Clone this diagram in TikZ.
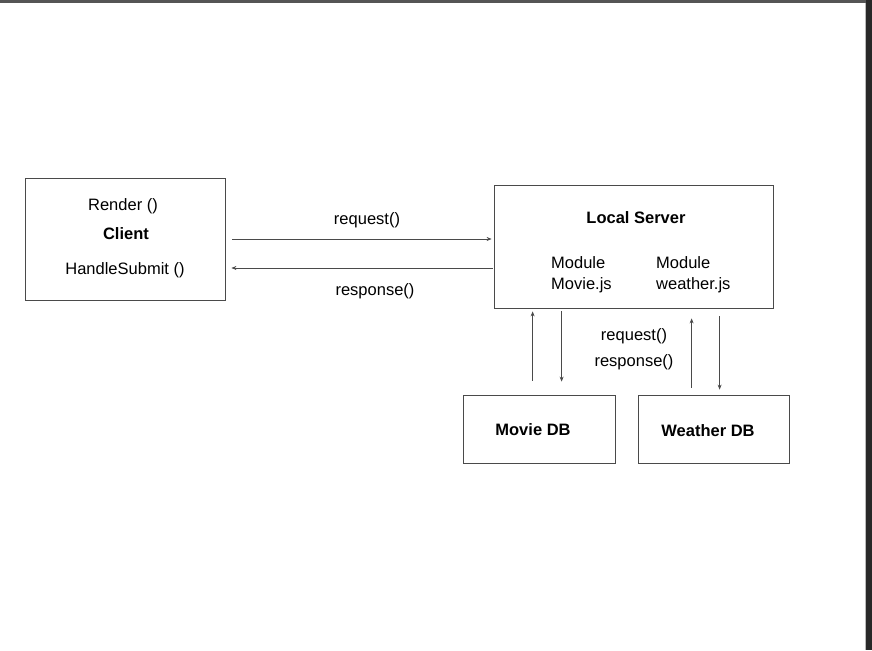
\documentclass[tikz,border=0pt]{standalone}
\usepackage{fontspec}
\setmainfont{Liberation Sans}
\definecolor{lineGrey}{HTML}{4A4A4A}
\definecolor{frameTop}{HTML}{555555}
\definecolor{frameSide}{HTML}{282828}
\definecolor{frameEdge}{HTML}{BBBBBB}
\usetikzlibrary{calc, positioning, arrows.meta}

\tikzset{
  box/.style={draw=lineGrey, line width=0.8pt, minimum width=#1, inner sep=0pt},
  lbl/.style={font=\fontsize{16.5}{21}\selectfont, inner sep=0pt, text=black},
  bold/.style={lbl, font=\fontsize{16.5}{21}\selectfont\bfseries},
  msg/.style={draw=lineGrey, line width=0.7pt, -{Stealth[length=5pt,width=4pt]}}
}

\begin{document}
\begin{tikzpicture}[x=1pt, y=-1pt]
  \useasboundingbox (0,0) rectangle (872,650);
  \fill[white] (0,0) rectangle (872,650);
  % screen frame
  \fill[frameTop] (0,0) rectangle (872,3);
  \fill[frameSide] (866,0) rectangle (872,650);
  \draw[frameEdge, line width=1pt] (865,3) -- (865,650);

  % boxes
  \node[box=200pt, minimum height=122pt] (client) at (125,239) {};
  \node[box=279pt, minimum height=123pt] (server) at (633.5,246.5) {};
  \node[box=152pt, minimum height=68pt] (moviedb) at (539,429) {};
  \node[box=151pt, minimum height=68pt] (weatherdb) at (713.5,429) {};

  % client texts
  \node[lbl] (render) at (123,206) {Render ()};
  \node[bold] (clientTitle) at (126,234) {Client};
  \node[lbl] (submit) at (125,270) {HandleSubmit ()};

  % server texts
  \node[bold] (serverTitle) at (636,218) {Local Server};
  \node[lbl, anchor=west, align=left] (movieMod) at (551,275) {Module\\Movie.js};
  \node[lbl, anchor=west, align=left] (weatherMod) at (656,275) {Module\\weather.js};

  % db texts
  \node[bold] (movieTitle) at (533,430) {Movie DB};
  \node[bold] (weatherTitle) at (708,431) {Weather DB};

  % client <-> server
  \draw[msg] ([xshift=7pt]client.east) -- ([xshift=-2pt]server.west |- client.east);
  \draw[msg] ([xshift=-1pt,yshift=-29pt]server.west |- client.east) -- ([xshift=6pt,yshift=-29pt]client.east);
  \node[lbl] (req) at (367,220) {request()};
  \node[lbl] (resp) at (375,291) {response()};

  % server <-> databases
  \draw[msg] ($(moviedb.north west)+(70,-14)$) -- ($(server.south west)+(39,3)$);
  \draw[msg] ($(server.south west)+(68,3)$) -- ($(moviedb.north west)+(99,-13)$);
  \draw[msg] ($(weatherdb.north west)+(54,-7)$) -- ($(server.south west)+(198,10)$);
  \draw[msg] ($(server.south west)+(226,8)$) -- ($(weatherdb.north west)+(82,-5)$);
  \node[lbl] (dbReq) at (634,336) {request()};
  \node[lbl] (dbResp) at (634,362) {response()};
\end{tikzpicture}
\end{document}
